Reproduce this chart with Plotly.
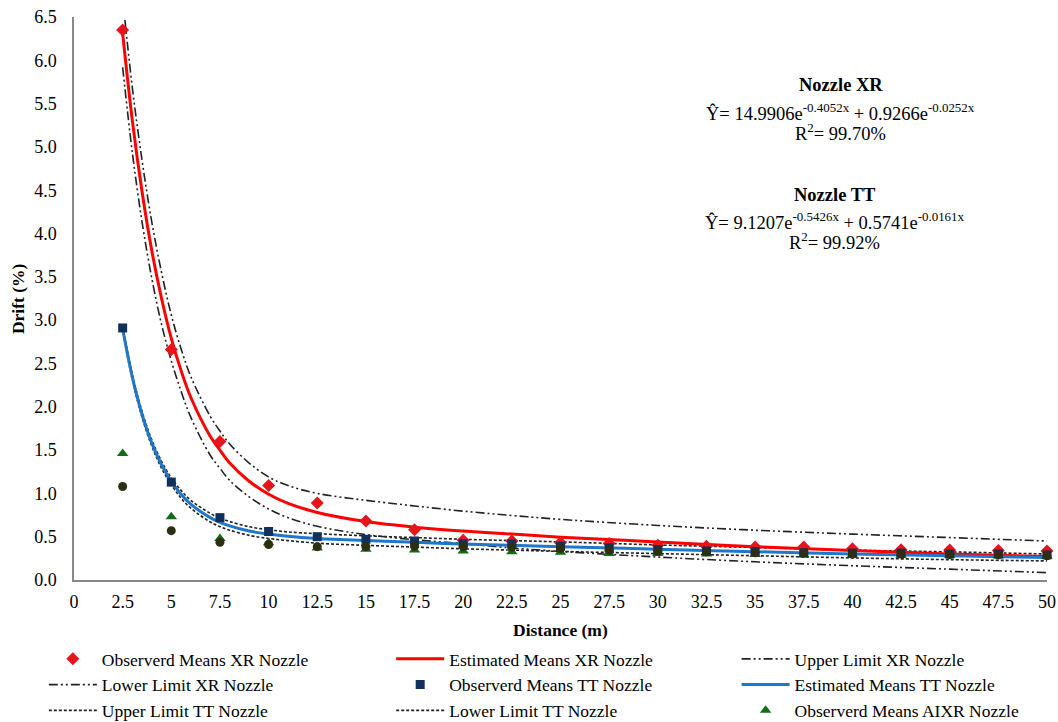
import plotly.graph_objects as go

# ---- data ----
distances = [2.5, 5, 7.5, 10, 12.5, 15, 17.5, 20, 22.5, 25, 27.5, 30, 32.5, 35, 37.5, 40, 42.5, 45, 47.5, 50]
xr_observed = [6.35, 2.66, 1.60, 1.09, 0.89, 0.68, 0.58, 0.46, 0.45, 0.43, 0.42, 0.40, 0.39, 0.38, 0.38, 0.36, 0.35, 0.345, 0.34, 0.335]
tt_observed = [2.91, 1.13, 0.72, 0.56, 0.50, 0.47, 0.45, 0.42, 0.415, 0.39, 0.37, 0.35, 0.335, 0.327, 0.315, 0.31, 0.31, 0.30, 0.30, 0.29]
aixr_observed = [1.46, 0.73, 0.48, 0.43, 0.37, 0.355, 0.345, 0.335, 0.325, 0.32, 0.305, 0.305, 0.30, 0.295, 0.29, 0.29, 0.285, 0.285, 0.28, 0.275]
other_observed = [1.08, 0.57, 0.435, 0.41, 0.385, 0.385, 0.39, 0.385, 0.38, 0.365, 0.345, 0.335, 0.325, 0.315, 0.31, 0.30, 0.30, 0.295, 0.29, 0.28]

curve_x = [2.5, 3, 3.5, 4, 4.5, 5, 5.5, 6, 7, 7.5, 8, 9, 10, 11, 12.5, 15, 17.5, 20, 22.5, 25, 30, 35, 40, 45, 50]
xr_estimated = [6.31, 5.30, 4.48, 3.80, 3.25, 2.79, 2.42, 2.11, 1.66, 1.50, 1.35, 1.14, 0.99, 0.885, 0.78, 0.675, 0.61, 0.565, 0.53, 0.495, 0.44, 0.385, 0.34, 0.30, 0.27]
xr_upper = [6.72, 5.68, 4.84, 4.13, 3.55, 3.06, 2.67, 2.35, 1.89, 1.72, 1.57, 1.35, 1.19, 1.09, 1.00, 0.92, 0.855, 0.795, 0.745, 0.70, 0.63, 0.575, 0.53, 0.49, 0.45]
xr_lower = [5.92, 4.93, 4.13, 3.48, 2.95, 2.53, 2.18, 1.88, 1.44, 1.29, 1.15, 0.96, 0.82, 0.72, 0.62, 0.525, 0.465, 0.42, 0.37, 0.33, 0.265, 0.21, 0.165, 0.125, 0.085]
tt_estimated = [2.90, 2.34, 1.91, 1.58, 1.33, 1.14, 0.99, 0.875, 0.72, 0.665, 0.625, 0.565, 0.53, 0.505, 0.48, 0.455, 0.435, 0.415, 0.40, 0.385, 0.355, 0.327, 0.30, 0.28, 0.26]
tt_upper = [2.93, 2.37, 1.945, 1.615, 1.37, 1.18, 1.035, 0.92, 0.77, 0.715, 0.675, 0.615, 0.58, 0.555, 0.535, 0.51, 0.49, 0.47, 0.455, 0.44, 0.405, 0.375, 0.345, 0.325, 0.30]
tt_lower = [2.87, 2.31, 1.875, 1.545, 1.29, 1.10, 0.945, 0.83, 0.67, 0.615, 0.575, 0.515, 0.48, 0.455, 0.425, 0.40, 0.38, 0.36, 0.345, 0.33, 0.305, 0.28, 0.255, 0.235, 0.22]

FONT = "Liberation Serif, Times New Roman, serif"
XR_DASH = "9px,3px,2px,3px,2px,3px"
TT_DASH = "3px,2px"

fig = go.Figure()

def line(x, y, name, color, width, dash, legend, rank):
    fig.add_trace(go.Scatter(x=x, y=y, name=name, mode="lines",
                             line=dict(color=color, width=width, dash=dash, shape="spline", smoothing=1.0),
                             legend=legend, legendrank=rank))

line(curve_x, xr_upper, "Upper Limit XR Nozzle", "#222222", 1.6, XR_DASH, "legend3", 1)
line(curve_x, xr_lower, "Lower Limit XR Nozzle", "#222222", 1.6, XR_DASH, "legend", 2)
line(curve_x, tt_upper, "Upper Limit TT Nozzle", "#222222", 1.6, TT_DASH, "legend", 3)
line(curve_x, tt_lower, "Lower Limit TT Nozzle", "#222222", 1.6, TT_DASH, "legend2", 3)
line(curve_x, xr_estimated, "Estimated Means XR Nozzle", "#FF0000", 3, "solid", "legend2", 1)
line(curve_x, tt_estimated, "Estimated Means TT Nozzle", "#1F77C8", 3, "solid", "legend3", 2)

def markers(y, name, symbol, color, size, legend, rank, show=True):
    fig.add_trace(go.Scatter(x=distances, y=y, name=name, mode="markers",
                             marker=dict(symbol=symbol, color=color, size=size,
                                         line=dict(width=0)),
                             cliponaxis=False, legend=legend, legendrank=rank,
                             showlegend=show))

markers(xr_observed, "Observerd Means XR Nozzle", "diamond", "#E8141B", 10, "legend", 1)
markers(aixr_observed, "Observerd Means AIXR Nozzle", "triangle-up", "#136B13", 10, "legend3", 3)
markers(tt_observed, "Observerd Means TT Nozzle", "square", "#12305C", 9, "legend2", 2)
markers(other_observed, "", "circle", "#2E2E12", 9, "legend", 9, show=False)

leg_common = dict(orientation="v", yanchor="top", xanchor="left", y=-0.1083,
                  font=dict(family=FONT, size=17.5, color="#000000"),
                  bgcolor="rgba(0,0,0,0)", itemwidth=48, traceorder="normal")

annotations = []
def ann(text, x, y, size=18.5, bold=False, angle=0):
    annotations.append(dict(text=("<b>%s</b>" % text) if bold else text, x=x, y=y,
                            xref="paper", yref="paper", showarrow=False,
                            xanchor="center", yanchor="middle", textangle=angle,
                            font=dict(family=FONT, size=size, color="#000000")))

ann("Nozzle XR", 0.788, 0.879, 18.5, True)
ann("Ŷ= 14.9906e<sup>-0.4052x</sup> + 0.9266e<sup>-0.0252x</sup>", 0.788, 0.832, 18.5)
ann("R<sup>2</sup>= 99.70%", 0.788, 0.796, 18.5)
ann("Nozzle TT", 0.782, 0.684, 18.5, True)
ann("Ŷ= 9.1207e<sup>-0.5426x</sup> + 0.5741e<sup>-0.0161x</sup>", 0.782, 0.638, 18.5)
ann("R<sup>2</sup>= 99.92%", 0.782, 0.602, 18.5)
ann("Distance (m)", 0.5, -0.089, 17.5, True)
ann("Drift (%)", -0.058, 0.5, 17.5, True, -90)

fig.update_layout(
    width=1058, height=722,
    margin=dict(l=74, r=11, t=17, b=142, autoexpand=False),
    paper_bgcolor="white", plot_bgcolor="white",
    font=dict(family=FONT, size=18, color="#000000"),
    showlegend=True,
    legend=dict(leg_common, x=-0.031),
    legend2=dict(leg_common, x=0.326),
    legend3=dict(leg_common, x=0.681),
    annotations=annotations,
    xaxis=dict(range=[0, 50], dtick=2.5, tick0=0, showgrid=False, zeroline=False,
               showline=True, linecolor="#888888", linewidth=1.5, ticks="",
               ticklabelstandoff=5, tickfont=dict(family=FONT, size=18, color="#000000")),
    yaxis=dict(range=[0, 6.5], dtick=0.5, tick0=0, tickformat=".1f", showgrid=False,
               zeroline=False, showline=True, linecolor="#888888", linewidth=1.5,
               ticks="", ticklabelstandoff=12,
               tickfont=dict(family=FONT, size=18, color="#000000")),
)

fig.write_html("out.html")
